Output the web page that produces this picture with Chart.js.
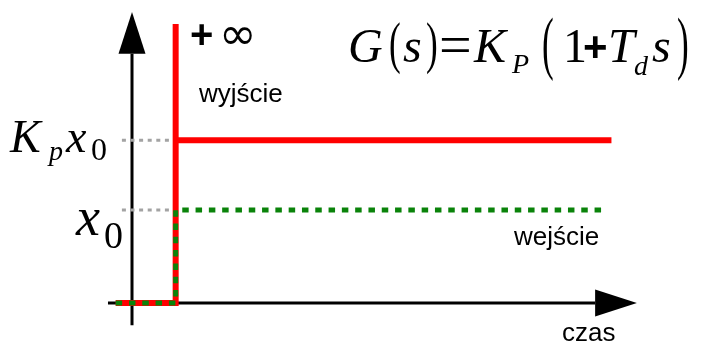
<!DOCTYPE html>
<html>
<head>
<meta charset="utf-8">
<title>Regulator PD – odpowiedź skokowa</title>
<script src="https://cdn.jsdelivr.net/npm/chart.js@4.4.1/dist/chart.umd.min.js"></script>
<style>
  html, body { margin: 0; padding: 0; background: #fff; }
  canvas { display: block; }
</style>
</head>
<body>
<canvas id="pdChart" width="706" height="347"></canvas>
<script>
// levels: input step x0 and controller gain Kp, spike stands in for +inf
const x0 = 1;
const Kp = 1.75;
const spike = 3.0;
const stepTime = 0.92;

// output (wyjście) of the PD controller
const outputT = [-0.33, stepTime, stepTime, stepTime, 10.0];
const outputY = [0, 0, spike, Kp * x0, Kp * x0];

// input (wejście) step
const inputT = [-0.33, stepTime, stepTime, 9.85];
const inputY = [0, 0, x0, x0];

// dotted guides from the y axis to the step
const guideT = [-0.2, stepTime];
const guideLevels = [Kp * x0, x0];

// axis extents: [start, arrow base, arrow tip]
const timeAxis = [-0.49, 9.66, 10.53];
const valueAxis = [-0.24, 2.68, 3.13];

const toPoints = (xs, ys) => xs.map((x, i) => ({ x: x, y: ys[i] }));

// arrows on both axes, drawn under the lines
const axesPlugin = {
  id: "arrowAxes",
  beforeDatasetsDraw(chart) {
    const ctx = chart.ctx;
    const xs = chart.scales.x, ys = chart.scales.y;
    const ox = xs.getPixelForValue(0) + 0.5;
    const oy = ys.getPixelForValue(0);
    const half = 13.5;
    ctx.save();
    ctx.strokeStyle = "#000";
    ctx.fillStyle = "#000";
    ctx.lineWidth = 3;
    ctx.beginPath();
    ctx.moveTo(xs.getPixelForValue(timeAxis[0]), oy);
    ctx.lineTo(xs.getPixelForValue(timeAxis[1]), oy);
    ctx.moveTo(ox, ys.getPixelForValue(valueAxis[0]));
    ctx.lineTo(ox, ys.getPixelForValue(valueAxis[1]));
    ctx.stroke();

    let bx = xs.getPixelForValue(timeAxis[1]);
    ctx.beginPath();
    ctx.moveTo(bx, oy - half);
    ctx.lineTo(xs.getPixelForValue(timeAxis[2]), oy);
    ctx.lineTo(bx, oy + half);
    ctx.closePath();
    ctx.fill();

    let by = ys.getPixelForValue(valueAxis[1]);
    ctx.beginPath();
    ctx.moveTo(ox - half, by);
    ctx.lineTo(ox, ys.getPixelForValue(valueAxis[2]));
    ctx.lineTo(ox + half, by);
    ctx.closePath();
    ctx.fill();
    ctx.restore();
  }
};

// formula and labels: [text, font, x, baseline, scaleX, scaleY]
const serif = "'Liberation Serif', 'DejaVu Serif', serif";
const sans = "'Liberation Sans', Arial, sans-serif";
const dejavu = "'DejaVu Sans', sans-serif";
const texts = [
  ["G", "italic 48px " + serif, 348, 62],
  ["(", "44px " + serif, 389, 61.5, 0.8, 1.3],
  ["s", "italic 48px " + serif, 403, 62],
  [")", "44px " + serif, 426, 61.5, 0.8, 1.3],
  ["=", "58px " + serif, 439, 64],
  ["K", "italic 48px " + serif, 474, 62],
  ["P", "italic 28px " + serif, 512, 73],
  ["(", "44px " + serif, 542, 66, 0.8, 1.58],
  ["1", "48px " + serif, 563, 62],
  ["+", "bold 42px " + sans, 583, 61],
  ["T", "italic 48px " + serif, 608, 62],
  ["d", "italic 28px " + serif, 634, 75],
  ["s", "italic 48px " + serif, 652, 62],
  [")", "44px " + serif, 677, 66, 0.8, 1.58],

  ["K", "italic 46px " + serif, 10, 152],
  ["p", "italic 28px " + serif, 49, 160],
  ["x", "italic 46px " + serif, 66, 152],
  ["0", "32px " + serif, 91, 160],
  ["x", "italic 54px " + serif, 76, 235],
  ["0", "38px " + serif, 104, 248],

  ["+", "bold 40px " + sans, 190, 48],
  ["∞", "45px " + dejavu, 219, 49],
  ["wyjście", "26px " + sans, 199, 102],
  ["wejście", "26px " + sans, 514, 245],
  ["czas", "26px " + sans, 562, 341]
];

const labelsPlugin = {
  id: "labels",
  afterDraw(chart) {
    const ctx = chart.ctx;
    ctx.save();
    ctx.fillStyle = "#000";
    ctx.textAlign = "left";
    ctx.textBaseline = "alphabetic";
    texts.forEach(([t, font, x, y, sx = 1, sy = 1]) => {
      ctx.save();
      ctx.font = font;
      ctx.translate(x, y);
      ctx.scale(sx, sy);
      ctx.fillText(t, 0, 0);
      ctx.restore();
    });
    ctx.restore();
  }
};

const ctx = document.getElementById("pdChart").getContext("2d");

new Chart(ctx, {
  type: "scatter",
  data: {
    datasets: [
      {
        label: "wejście",
        data: toPoints(inputT, inputY),
        borderColor: "#0a830a",
        borderWidth: 5,
        borderDash: [6.5, 6.8],
        borderCapStyle: "butt",
        borderJoinStyle: "miter",
        order: 0
      },
      {
        label: "wyjście",
        data: toPoints(outputT, outputY),
        borderColor: "#ff0000",
        borderWidth: 6,
        borderCapStyle: "butt",
        borderJoinStyle: "miter",
        order: 1
      },
      ...guideLevels.map((lvl, i) => ({
        label: "guide" + i,
        data: toPoints(guideT, [lvl, lvl]),
        borderColor: "#a3a3a3",
        borderWidth: 3,
        borderDash: [4, 4.6],
        borderCapStyle: "butt",
        order: 2
      }))
    ].map(ds => Object.assign(ds, { showLine: true, pointRadius: 0, fill: false, tension: 0 }))
  },
  options: {
    responsive: false,
    animation: false,
    layout: { padding: 0 },
    plugins: {
      legend: { display: false },
      tooltip: { enabled: false }
    },
    scales: {
      x: { type: "linear", display: false, min: -2.74, max: 11.97 },
      y: { type: "linear", display: false, min: -0.473, max: 3.258 }
    }
  },
  plugins: [axesPlugin, labelsPlugin]
});
</script>
</body>
</html>
